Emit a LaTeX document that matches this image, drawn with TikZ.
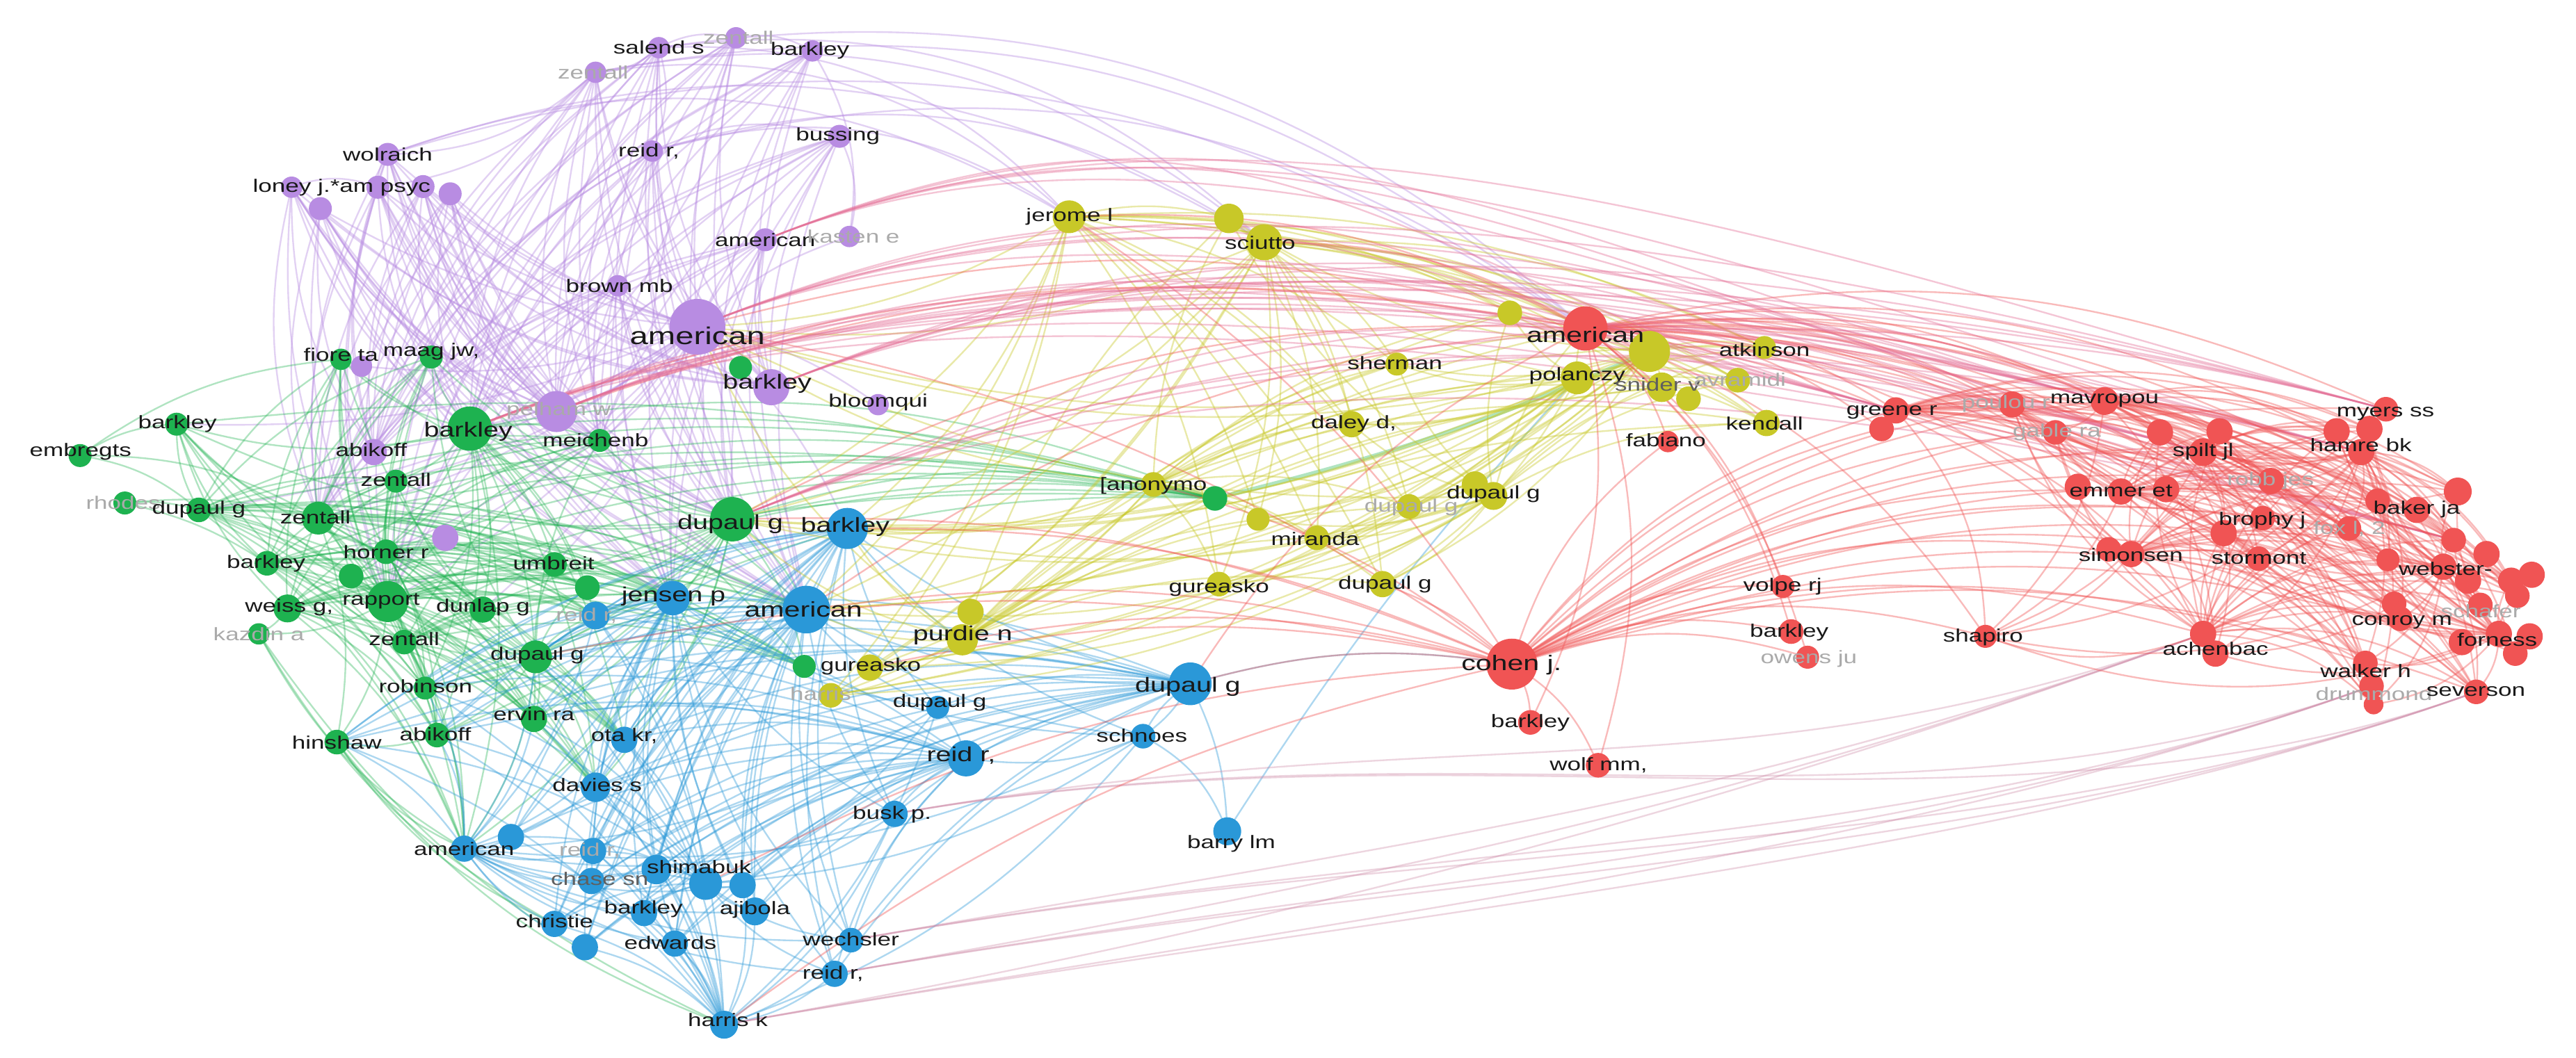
\documentclass[tikz,border=0pt]{standalone}
\usepackage{fontspec}
\setmainfont{Liberation Sans}[FakeStretch=1.35]
\usetikzlibrary{backgrounds}
\definecolor{cP}{RGB}{184,140,226}
\definecolor{cG}{RGB}{30,178,80}
\definecolor{cB}{RGB}{42,152,216}
\definecolor{cY}{RGB}{200,200,40}
\definecolor{cR}{RGB}{240,84,84}
\definecolor{cBR}{RGB}{205,135,165}
\definecolor{cK}{RGB}{228,110,150}
\definecolor{labc}{RGB}{25,25,25}
\definecolor{labgc}{RGB}{170,170,170}
\definecolor{labdc}{RGB}{95,95,95}
\tikzset{
  cirP/.style={circle,inner sep=0pt,fill=cP,minimum size=#1},
  cirG/.style={circle,inner sep=0pt,fill=cG,minimum size=#1},
  cirB/.style={circle,inner sep=0pt,fill=cB,minimum size=#1},
  cirY/.style={circle,inner sep=0pt,fill=cY,minimum size=#1},
  cirR/.style={circle,inner sep=0pt,fill=cR,minimum size=#1},
  lab/.style={text=labc,inner sep=0pt,font=\fontsize{11}{11}\selectfont},
  labm/.style={lab,font=\fontsize{12.4}{12.4}\selectfont},
  labl/.style={lab,font=\fontsize{12.9}{12.9}\selectfont},
  labh/.style={lab,font=\fontsize{14.8}{14.8}\selectfont},
  labg/.style={lab,text=labgc},
  labd/.style={lab,text=labdc},
  eP/.style={draw=cP,draw opacity=.4,line width=.2pt},
  eG/.style={draw=cG,draw opacity=.35,line width=.2pt},
  eB/.style={draw=cB,draw opacity=.38,line width=.2pt},
  eY/.style={draw=cY,draw opacity=.4,line width=.2pt},
  eR/.style={draw=cR,draw opacity=.4,line width=.2pt},
  eK/.style={draw=cK,draw opacity=.4,line width=.2pt},
  eBR/.style={draw=cBR,draw opacity=.35,line width=.2pt},
}
\begin{document}
\begin{tikzpicture}[x=1pt,y=1pt,scale=0.2,every node/.append style={transform shape}]
\useasboundingbox (0,0) rectangle (1568,-644);
% ---------------- purple
\node[cirP=34pt] (AmP) at (424.5,-199) {};
\node[cirP=13pt] (salend) at (401,-29) {};
\node[cirP=13pt] (zentPa) at (362.5,-44) {};
\node[cirP=13pt] (zentPb) at (448,-23) {};
\node[cirP=13pt] (barkPa) at (494.5,-31) {};
\node[cirP=13pt] (reidP) at (397,-92) {};
\node[cirP=14pt] (bussing) at (511,-83) {};
\node[cirP=14pt] (wolraich) at (236,-94) {};
\node[cirP=13pt] (loa) at (177.5,-114) {};
\node[cirP=14pt] (lob) at (230,-114) {};
\node[cirP=14pt] (loc) at (257.5,-113.6) {};
\node[cirP=14pt] (lod) at (274,-118) {};
\node[cirP=14pt] (loe) at (195,-127) {};
\node[cirP=13pt] (brownmb) at (376,-174) {};
\node[cirP=14pt] (amPb) at (465.75,-146) {};
\node[cirP=13pt] (kasten) at (517,-144) {};
\node[cirP=25pt] (pelham) at (338.75,-250.6) {};
\node[cirP=22pt] (barkP) at (469.5,-235.8) {};
\node[cirP=13pt] (bloomqui) at (534.5,-246.4) {};
\node[cirP=16pt] (abikoffP) at (227.5,-275.3) {};
\node[cirP=16pt] (purpX) at (271,-327.5) {};
\node[cirP=13pt] (fioreP) at (220,-223) {};
% ---------------- green
\node[cirG=27pt] (barkGbig) at (286,-261) {};
\node[cirG=27pt] (dupGbig) at (445.75,-316.2) {};
\node[cirG=13pt] (fiore) at (207.5,-218.8) {};
\node[cirG=14pt] (maag) at (262.5,-217.4) {};
\node[cirG=14pt] (gX3) at (450.75,-223.8) {};
\node[cirG=14pt] (barkGa) at (107.5,-258.3) {};
\node[cirG=14pt] (embregts) at (48.75,-277.4) {};
\node[cirG=14pt] (meichenb) at (365,-268.2) {};
\node[cirG=14pt] (zentGa) at (241,-293) {};
\node[cirG=14pt] (rhodes) at (76,-306.3) {};
\node[cirG=15pt] (dupGa) at (121,-310.5) {};
\node[cirG=20pt] (zentGb) at (193.75,-315.5) {};
\node[cirG=15pt] (horner) at (235,-336) {};
\node[cirG=15pt] (barkGb) at (162.5,-343) {};
\node[cirG=15pt] (gX1) at (213.75,-350.8) {};
\node[cirG=15pt] (umbreit) at (337.5,-343.7) {};
\node[cirG=15pt] (gX2) at (357.5,-357.8) {};
\node[cirG=17pt] (weiss) at (175,-370.5) {};
\node[cirG=25pt] (rapport) at (236,-366.3) {};
\node[cirG=16pt] (dunlap) at (293.75,-371.2) {};
\node[cirG=13pt] (kazdin) at (157.5,-386) {};
\node[cirG=15pt] (zentGc) at (246,-391) {};
\node[cirG=20pt] (dupGb) at (326,-400) {};
\node[cirG=14pt] (robinson) at (258.75,-419) {};
\node[cirG=16pt] (ervin) at (325,-437.8) {};
\node[cirG=15pt] (hinshaw) at (205,-451.9) {};
\node[cirG=15pt] (abikoffG) at (266,-447.6) {};
\node[cirG=15pt] (anonG) at (739.5,-303.5) {};
\node[cirG=14pt] (gX4) at (489.5,-405.8) {};
% ---------------- blue
\node[cirB=29pt] (amB) at (490.75,-371.2) {};
\node[cirB=25pt] (barkB) at (515.75,-321.8) {};
\node[cirB=26pt] (dupBbig) at (724.5,-416.4) {};
\node[cirB=17pt] (reidBa) at (362.5,-374.8) {};
\node[cirB=21pt] (jensen) at (409.5,-364.2) {};
\node[cirB=14pt] (dupBb) at (570.75,-430.7) {};
\node[cirB=15pt] (schnoes) at (695.75,-448.3) {};
\node[cirB=22pt] (reidBb) at (588,-461.8) {};
\node[cirB=16pt] (busk) at (544.5,-495.6) {};
\node[cirB=17pt] (barry) at (747,-506.2) {};
\node[cirB=16pt] (ota) at (380,-450.5) {};
\node[cirB=18pt] (davies) at (362.5,-479.4) {};
\node[cirB=16pt] (amBb) at (282.5,-516.8) {};
\node[cirB=16pt] (bX1) at (311,-509.7) {};
\node[cirB=16pt] (reidBc) at (361,-518.2) {};
\node[cirB=16pt] (chase) at (360,-536.5) {};
\node[cirB=16pt] (christie) at (337.5,-562.6) {};
\node[cirB=16pt] (bX2) at (356,-576.8) {};
\node[cirB=16pt] (barkBb) at (392,-556) {};
\node[cirB=16pt] (edwards) at (410.75,-574.6) {};
\node[cirB=18pt] (bX3) at (399.5,-529.5) {};
\node[cirB=20pt] (shim) at (429.5,-538) {};
\node[cirB=16pt] (bX4) at (452,-539) {};
\node[cirB=17pt] (ajibola) at (459.5,-555) {};
\node[cirB=15pt] (wechsler) at (518,-572.5) {};
\node[cirB=16pt] (reidBd) at (508,-593) {};
\node[cirB=17pt] (harris) at (440.75,-624) {};
% ---------------- yellow
\node[cirY=20pt] (jerome) at (650.75,-132) {};
\node[cirY=18pt] (yX1) at (748,-133) {};
\node[cirY=22pt] (sciutto) at (769.5,-147.5) {};
\node[cirY=15pt] (yX2) at (919,-190.5) {};
\node[cirY=14pt] (atkinson) at (1074,-211.6) {};
\node[cirY=14pt] (sherman) at (850.25,-221.7) {};
\node[cirY=20pt] (polanczy) at (960,-230.1) {};
\node[cirY=18pt] (snider) at (1011.5,-235.8) {};
\node[cirY=15pt] (yX3) at (1027.75,-242.8) {};
\node[cirY=15pt] (avramidi) at (1057.75,-231.5) {};
\node[cirY=16pt] (kendall) at (1075.25,-257.6) {};
\node[cirY=16pt] (daley) at (822.75,-258.3) {};
\node[cirY=15pt] (anonY) at (702,-295) {};
\node[cirY=14pt] (yX4) at (765.75,-316.2) {};
\node[cirY=15pt] (miranda) at (801.5,-327.5) {};
\node[cirY=16pt] (dupYa) at (897.75,-295) {};
\node[cirY=17pt] (dupYb) at (909,-302) {};
\node[cirY=15pt] (dupYg) at (857.75,-308.4) {};
\node[cirY=16pt] (dupYc) at (841.5,-355.7) {};
\node[cirY=15pt] (gureYa) at (742,-355.7) {};
\node[cirY=16pt] (purdieA) at (590.75,-372.6) {};
\node[cirY=19pt] (purdieB) at (585.75,-389.6) {};
\node[cirY=16pt] (gureYb) at (529.5,-406.5) {};
\node[cirY=15pt] (harrisY) at (505.75,-423.4) {};
% ---------------- red
\node[cirR=27pt] (amR) at (965,-200) {};
\node[cirY=25pt] (yBig) at (1004,-214) {};
\node[cirR=31pt] (cohen) at (920.25,-404.4) {};
\node[cirR=13pt] (fabiano) at (1015.25,-268.9) {};
\node[cirR=16pt] (greeneA) at (1154,-249.9) {};
\node[cirR=15pt] (greeneB) at (1145.25,-261.2) {};
\node[cirR=14pt] (volpe) at (1085.25,-357.1) {};
\node[cirR=15pt] (barkRa) at (1090.25,-384.6) {};
\node[cirR=14pt] (owens) at (1100.25,-400.2) {};
\node[cirR=15pt] (barkRb) at (931.5,-439.9) {};
\node[cirR=15pt] (wolf) at (972.75,-466) {};
\node[cirR=16pt] (poulou) at (1224.75,-246.3) {};
\node[cirR=17pt] (mavropou) at (1281,-244.2) {};
\node[cirR=15pt] (gable) at (1251,-263.3) {};
\node[cirR=16pt] (rXa) at (1314.75,-263.3) {};
\node[cirR=16pt] (rXb) at (1351,-262.6) {};
\node[cirR=17pt] (spilt) at (1341,-275.3) {};
\node[cirR=16pt] (emmerA) at (1264.75,-296.4) {};
\node[cirR=16pt] (emmerB) at (1291,-299.3) {};
\node[cirR=16pt] (emmerC) at (1318.5,-297.9) {};
\node[cirR=16pt] (robb) at (1382.25,-292.9) {};
\node[cirR=15pt] (myersA) at (1452.25,-249.2) {};
\node[cirR=16pt] (myersB) at (1422.25,-262.6) {};
\node[cirR=16pt] (myersC) at (1442.25,-261.2) {};
\node[cirR=16pt] (hamre) at (1437.25,-275.3) {};
\node[cirR=15pt] (bakerA) at (1447.25,-304.9) {};
\node[cirR=16pt] (bakerB) at (1471,-310.5) {};
\node[cirR=17pt] (bakerC) at (1496,-299.3) {};
\node[cirR=15pt] (brophyA) at (1377.25,-315.5) {};
\node[cirR=16pt] (brophyB) at (1353.5,-324.7) {};
\node[cirR=15pt] (fox) at (1429.75,-321.8) {};
\node[cirR=15pt] (simA) at (1283.5,-334.5) {};
\node[cirR=16pt] (simB) at (1297.25,-337.4) {};
\node[cirR=15pt] (stormont) at (1374.75,-340.2) {};
\node[cirR=14pt] (dulcan) at (1453.5,-340.9) {};
\node[cirR=15pt] (webA) at (1493.5,-328.9) {};
\node[cirR=16pt] (webB) at (1513.5,-337.4) {};
\node[cirR=16pt] (webC) at (1487.25,-345.1) {};
\node[cirR=16pt] (webD) at (1502.25,-353.6) {};
\node[cirR=16pt] (webE) at (1528.5,-353.6) {};
\node[cirR=16pt] (webF) at (1541,-350) {};
\node[cirR=15pt] (webG) at (1532.25,-362.8) {};
\node[cirR=15pt] (schaferC) at (1509.75,-368.4) {};
\node[cirR=15pt] (conroyA) at (1457.25,-367.7) {};
\node[cirR=15pt] (conroyB) at (1461,-376.8) {};
\node[cirR=16pt] (fornA) at (1498.5,-391) {};
\node[cirR=16pt] (fornB) at (1521,-386) {};
\node[cirR=16pt] (fornC) at (1539.75,-387.5) {};
\node[cirR=15pt] (fornD) at (1531,-398) {};
\node[cirR=16pt] (achenA) at (1341,-386) {};
\node[cirR=16pt] (achenB) at (1348.5,-398) {};
\node[cirR=14pt] (shapiro) at (1208.5,-387.5) {};
\node[cirR=15pt] (walkerA) at (1439.75,-403.7) {};
\node[cirR=15pt] (walkerB) at (1443.5,-417.8) {};
\node[cirR=12pt] (drummond) at (1444.75,-429) {};
\node[cirR=15pt] (severson) at (1507.25,-421.3) {};
% ================= edges
\begin{pgfonlayer}{background}
\fill[white] (0,0) rectangle (1568,-644);
\foreach \b in {salend,zentPa,zentPb,reidP,bussing,wolraich,lob,loc,lod,loe,brownmb,amPb,kasten,pelham,barkP,bloomqui,abikoffP,purpX,fioreP,barkGbig,dupGbig,meichenb,zentGa,horner,rapport,dunlap,jensen,amB,barkB,umbreit,zentGb,barkGa,dupGa}
  \draw[eP] (AmP.center) to[bend left=12] (\b.center);
\foreach \a in {salend,zentPa,reidP,wolraich,lob,loc,loa,loe,lod,amPb,bussing,zentPb,barkPa,brownmb}
  \foreach \b in {barkGbig,dupGbig,amB,jensen,rapport,pelham,barkP,meichenb,zentGb,abikoffP}
    \draw[eP] (\a.center) to[bend right=18] (\b.center);
\foreach \a/\b in {salend/zentPb,salend/zentPa,zentPa/wolraich,zentPb/barkPa,reidP/bussing,salend/reidP,lob/wolraich,loa/lob,loa/loe,zentPa/lob,barkPa/kasten,bussing/kasten}
  \draw[eP] (\a.center) to[bend left=20] (\b.center);
\foreach \a in {reidP,salend,wolraich,zentPa}
  \foreach \b in {jerome,sciutto,amR}
    \draw[eP] (\a.center) to[bend left=25] (\b.center);
\foreach \a in {barkGbig,dupGbig,zentGb,rapport,dupGa,barkGb,zentGc,dupGb,weiss,horner}
  \foreach \b in {fiore,maag,barkGa,meichenb,zentGa,umbreit,gX1,gX2,dunlap,robinson,ervin,abikoffG,anonG,gX4,jensen,amB,ota,davies,amBb,reidBa}
    \draw[eG] (\a.center) to[bend left=15] (\b.center);
\foreach \b in {barkGa,dupGa,zentGb,fiore} \draw[eG] (embregts.center) to[bend left=15] (\b.center);
\foreach \b in {dupGa,zentGb,barkGb} \draw[eG] (rhodes.center) to[bend left=10] (\b.center);
\foreach \b in {weiss,rapport,amBb,harris,christie} \draw[eG] (kazdin.center) to[bend right=15] (\b.center);
\foreach \b in {abikoffG,rapport,zentGb,amBb,harris,christie} \draw[eG] (hinshaw.center) to[bend right=15] (\b.center);
\foreach \b in {barkGbig,dupGbig,zentGb,rapport,barkGa,dupGa} \draw[eG] (anonG.center) to[bend right=10] (\b.center);
\draw[eG,line width=.5pt] (anonG.center) to[bend right=5] (yBig.center);
\foreach \a in {amB,barkB,dupBbig,jensen,shim,harris,amBb,reidBb}
  \foreach \b in {reidBa,ota,davies,bX1,reidBc,chase,christie,bX2,barkBb,edwards,bX3,bX4,ajibola,wechsler,reidBd,busk,dupBb,schnoes,hinshaw,robinson,ervin,dupGb,abikoffG}
    \draw[eB] (\a.center) to[bend right=15] (\b.center);
\foreach \b in {barry,schnoes,cohen,barkB,amB} \draw[eB] (dupBbig.center) to[bend left=12] (\b.center);
\draw[eB] (barry.center) to[bend left=5] (polanczy.center);
\draw[eB] (barry.center) to[bend right=20] (schnoes.center);
\foreach \a in {harris,wechsler,reidBd,busk}
  \foreach \b in {achenA,walkerB,severson}
    \draw[eBR] (\a.center) .. controls +(10:350) and +(200:300) .. (\b.center);
\foreach \a in {jerome,sciutto,yBig,polanczy,purdieB,dupYb,anonY}
  \foreach \b in {yX1,yX2,sherman,snider,avramidi,kendall,daley,miranda,dupYc,dupYg,gureYa,gureYb,harrisY,atkinson,yX4,amR,AmP,dupGbig,amB,barkB}
    \draw[eY] (\a.center) to[bend left=14] (\b.center);
\foreach \a in {amR,cohen}
  \foreach \b in {fabiano,greeneA,greeneB,poulou,mavropou,gable,spilt,emmerB,myersA,hamre,bakerB,brophyA,simB,stormont,webC,conroyA,fornA,achenA,shapiro,walkerA,severson,volpe,barkRa,owens,barkRb,wolf,robb,fox}
    \draw[eR] (\a.center) to[bend left=18] (\b.center);
\foreach \b in {amB,dupGbig,dupBbig,purdieB,barkB,jerome,AmP,dupYc,anonY,gureYb,harris,shim,dupGb}
  \draw[eR] (cohen.center) to[bend right=12] (\b.center);
\foreach \b in {AmP,jerome,sciutto,dupGbig,barkGbig,amB,pelham,dupBbig}
  \draw[eR] (amR.center) to[bend right=15] (\b.center);
\foreach \a in {AmP,barkGbig,pelham,dupGbig,barkP,amPb}
  \foreach \b in {mavropou,myersA,hamre,spilt,greeneA,webA}
    \draw[eK] (\a.center) .. controls +(22:330) and +(165:330) .. (\b.center);
\foreach \a in {mavropou,spilt,emmerB,hamre,webC,fornB,achenA,simB,greeneA}
  \foreach \b in {poulou,gable,rXa,rXb,robb,myersB,myersC,bakerA,bakerC,brophyB,fox,stormont,dulcan,webA,webE,webG,conroyB,fornD,achenB,walkerA,drummond,severson,shapiro,schaferC}
    \draw[eR] (\a.center) to[bend left=20] (\b.center);
\end{pgfonlayer}
% ================= labels
\node[lab] (Lsalend) at (401,-29) {salend s};
\node[labg] (LzentPa) at (361,-44) {zentall};
\node[labg] (LzentPb) at (449.5,-23) {zentall};
\node[lab] (LbarkPa) at (493,-31) {barkley};
\node[lab] (LreidP) at (395,-92) {reid r,};
\node[lab] (Lbussing) at (510,-83) {bussing};
\node[lab] (Lwolraich) at (236,-94) {wolraich};
\node[lab] (Lloney) at (208,-114) {loney j.*am psyc};
\node[lab] (Lbrownmb) at (377,-174) {brown mb};
\node[lab] (LamPb) at (465.75,-146) {american};
\node[labg] (Lkasten) at (519.5,-144) {kasten e};
\node[labh] (LAmP) at (424.5,-204.6) {american};
\node[labg] (Lpelham) at (340,-250) {pelham w};
\node[labm] (LbarkP) at (467,-233.6) {barkley};
\node[lab] (Lbloomqui) at (534.5,-245) {bloomqui};
\node[lab] (LabikoffP) at (226,-274) {abikoff};
\node[lab] (Lfiore) at (207.5,-216) {fiore ta};
\node[lab] (Lmaag) at (262.5,-214) {maag jw,};
\node[lab] (LbarkGa) at (108,-258) {barkley};
\node[lab] (Lembregts) at (49,-275) {embregts};
\node[labm] (LbarkGbig) at (285,-263) {barkley};
\node[lab] (Lmeichenb) at (362.5,-268) {meichenb};
\node[lab] (LzentGa) at (241,-292) {zentall};
\node[labg] (Lrhodes) at (75,-306) {rhodes};
\node[lab] (LdupGa) at (121,-310) {dupaul g};
\node[lab] (LzentGb) at (192,-315) {zentall};
\node[lab] (Lhorner) at (235,-336) {horner r};
\node[lab] (LbarkGb) at (162,-343) {barkley};
\node[lab] (Lumbreit) at (337,-343) {umbreit};
\node[lab] (Lweiss) at (176,-370) {weiss g,};
\node[lab] (Lrapport) at (232,-366) {rapport};
\node[lab] (Ldunlap) at (294,-370) {dunlap g};
\node[labg] (Lkazdin) at (157.5,-386) {kazdin a};
\node[lab] (LzentGc) at (246,-389) {zentall};
\node[lab] (LdupGb) at (327,-399) {dupaul g};
\node[lab] (Lrobinson) at (259,-418) {robinson};
\node[lab] (Lervin) at (325,-435) {ervin ra};
\node[lab] (Lhinshaw) at (205,-452) {hinshaw};
\node[lab] (LabikoffG) at (265,-447) {abikoff};
\node[labm] (LdupGbig) at (444.5,-319) {dupaul g};
\node[labg] (LreidBa) at (357,-375) {reid r,};
\node[labm] (Ljensen) at (410,-363) {jensen p};
\node[labl] (LamB) at (489,-371) {american};
\node[labm] (LbarkB) at (514.5,-321) {barkley};
\node[labm] (LdupBbig) at (723,-418) {dupaul g};
\node[lab] (LdupBb) at (572,-428) {dupaul g};
\node[lab] (Lschnoes) at (695,-448) {schnoes};
\node[labm] (LreidBb) at (585,-460) {reid r,};
\node[lab] (Lbusk) at (543,-496) {busk p.};
\node[lab] (Lbarry) at (749.5,-514) {barry lm};
\node[lab] (Lota) at (380,-448) {ota kr,};
\node[lab] (Ldavies) at (363.5,-478) {davies s};
\node[lab] (LamBb) at (282.5,-517) {american};
\node[labg] (LreidBc) at (359,-518) {reid r,};
\node[labd] (Lchase) at (365,-535) {chase sn};
\node[lab] (Lchristie) at (337.5,-561) {christie};
\node[lab] (LbarkBb) at (391.6,-553.6) {barkley};
\node[lab] (Ledwards) at (408,-574) {edwards};
\node[lab] (Lshim) at (425.5,-528) {shimabuk};
\node[lab] (Lajibola) at (459.5,-554) {ajibola};
\node[lab] (Lwechsler) at (518,-572) {wechsler};
\node[lab] (LreidBd) at (507,-593) {reid r,};
\node[lab] (Lharris) at (443,-621) {harris k};
\node[lab] (Ljerome) at (651,-132) {jerome l};
\node[lab] (Lsciutto) at (767,-148) {sciutto};
\node[lab] (Latkinson) at (1074,-213) {atkinson};
\node[lab] (Lsherman) at (849,-221) {sherman};
\node[lab] (Lpolanczy) at (960,-229) {polanczy};
\node[labd] (Lsnider) at (1009,-234) {snider v};
\node[labg] (Lavramidi) at (1059,-231) {avramidi};
\node[lab] (Lkendall) at (1074,-258) {kendall};
\node[lab] (Ldaley) at (824,-258) {daley d,};
\node[lab] (LanonY) at (702,-295.7) {[anonymo};
\node[lab] (Lmiranda) at (800.5,-328) {miranda};
\node[lab] (LdupY) at (909,-301) {dupaul g};
\node[labg] (LdupYg) at (859,-309) {dupaul g};
\node[lab] (LdupYc) at (843,-356) {dupaul g};
\node[lab] (LgureYa) at (742,-358) {gureasko};
\node[labm] (Lpurdie) at (586,-387) {purdie n};
\node[lab] (LgureYb) at (530,-406) {gureasko};
\node[labg] (LharrisY) at (499.5,-422.7) {harris};
\node[labl] (LamR) at (965,-204) {american};
\node[lab] (Lfabiano) at (1014,-268) {fabiano};
\node[lab] (Lgreene) at (1151.5,-251) {greene r};
\node[labl] (Lcohen) at (920,-405) {cohen j.};
\node[lab] (Lvolpe) at (1085,-357) {volpe rj};
\node[lab] (LbarkRa) at (1089,-385) {barkley};
\node[labg] (Lowens) at (1101,-401) {owens ju};
\node[lab] (LbarkRb) at (931.5,-440) {barkley};
\node[lab] (Lwolf) at (973,-466) {wolf mm,};
\node[labg] (Lpoulou) at (1221,-246) {poulou r};
\node[lab] (Lmavropou) at (1281,-244) {mavropou};
\node[labg] (Lgable) at (1252,-263) {gable ra};
\node[lab] (Lspilt) at (1341,-275) {spilt jl};
\node[lab] (Lemmer) at (1291,-299) {emmer et};
\node[labg] (Lrobb) at (1382,-293) {robb jes};
\node[lab] (Lmyers) at (1452,-252) {myers ss};
\node[lab] (Lhamre) at (1437,-271) {hamre bk};
\node[lab] (Lbaker) at (1471,-310) {baker ja};
\node[lab] (Lbrophy) at (1377,-317) {brophy j};
\node[labg] (Lfox) at (1430,-322) {fox l, 2};
\node[lab] (Lsimonsen) at (1297,-338) {simonsen};
\node[lab] (Lstormont) at (1375,-340) {stormont};
\node[lab] (Lwebster) at (1488.5,-346.5) {webster-};
\node[labg] (Lschafer) at (1510,-372) {schafer};
\node[lab] (Lconroy) at (1462,-379) {conroy m};
\node[lab] (Lforness) at (1520,-389.6) {forness};
\node[lab] (Lachen) at (1348.5,-395) {achenbac};
\node[lab] (Lshapiro) at (1207,-388) {shapiro};
\node[lab] (Lwalker) at (1440,-408.6) {walker h};
\node[labg] (Ldrummond) at (1445,-422.7) {drummond};
\node[lab] (Lseverson) at (1507,-421) {severson};
\end{tikzpicture}
\end{document}
